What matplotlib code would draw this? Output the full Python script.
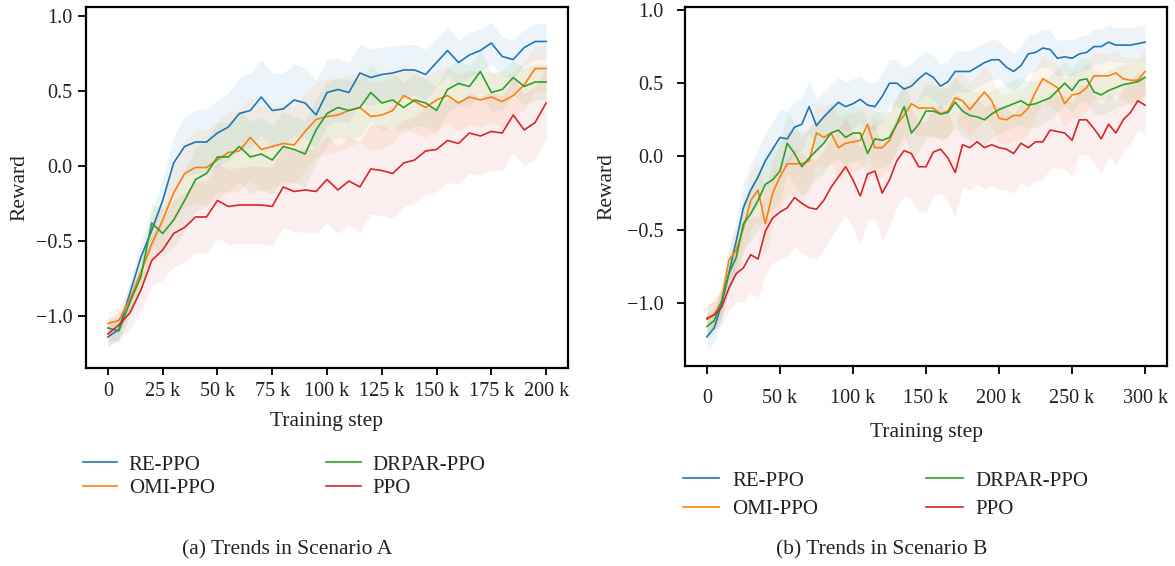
"""Reward trends of the four PPO variants in scenario A and scenario B."""

import numpy as np
import matplotlib
matplotlib.use('Agg')
from matplotlib import pyplot as plt
from matplotlib.ticker import FuncFormatter


# =============================================================================
# Data
# =============================================================================
labels = ['RE-PPO', 'OMI-PPO', 'DRPAR-PPO', 'PPO']
colors = ['#1f77b4', '#ff7f0e', '#2ca02c', '#d62728']

# Scenario A, training step in k
steps_a = np.arange(0, 201, 5)

re_a = [-1.14, -1.09, -0.85, -0.61, -0.43, -0.23, 0.02, 0.13, 0.16, 0.16,
        0.22, 0.26, 0.35, 0.37, 0.46, 0.37, 0.38, 0.44, 0.42, 0.34,
        0.49, 0.51, 0.49, 0.62, 0.59, 0.61, 0.62, 0.64, 0.64, 0.61,
        0.69, 0.77, 0.69, 0.74, 0.77, 0.82, 0.73, 0.71, 0.79, 0.83,
        0.83]
omi_a = [-1.05, -1.03, -0.89, -0.71, -0.52, -0.36, -0.18, -0.05, -0.01, -0.01,
         0.04, 0.09, 0.10, 0.19, 0.11, 0.13, 0.15, 0.14, 0.23, 0.31,
         0.33, 0.34, 0.37, 0.39, 0.33, 0.34, 0.37, 0.47, 0.43, 0.39,
         0.44, 0.47, 0.42, 0.46, 0.44, 0.46, 0.43, 0.47, 0.54, 0.65,
         0.65]
drpar_a = [-1.08, -1.10, -0.91, -0.74, -0.38, -0.45, -0.36, -0.23, -0.09, -0.05,
           0.06, 0.06, 0.13, 0.06, 0.08, 0.04, 0.13, 0.11, 0.08, 0.24,
           0.35, 0.39, 0.37, 0.39, 0.49, 0.42, 0.44, 0.39, 0.44, 0.42,
           0.37, 0.51, 0.55, 0.53, 0.63, 0.49, 0.51, 0.59, 0.53, 0.56,
           0.56]
ppo_a = [-1.12, -1.06, -0.98, -0.83, -0.63, -0.56, -0.45, -0.41, -0.34, -0.34,
         -0.23, -0.27, -0.26, -0.26, -0.26, -0.27, -0.14, -0.17, -0.16, -0.17,
         -0.09, -0.16, -0.10, -0.14, -0.02, -0.03, -0.05, 0.02, 0.04, 0.10,
         0.11, 0.17, 0.15, 0.22, 0.20, 0.23, 0.22, 0.34, 0.24, 0.29,
         0.42]

# Scenario A, spread of the runs around each curve
sd_re_a = [0.07, 0.07, 0.08, 0.10, 0.12, 0.15, 0.18, 0.20, 0.21, 0.22,
           0.22, 0.23, 0.24, 0.25, 0.25, 0.25, 0.24, 0.24, 0.23, 0.23,
           0.22, 0.21, 0.20, 0.19, 0.19, 0.18, 0.18, 0.17, 0.17, 0.17,
           0.16, 0.16, 0.15, 0.15, 0.14, 0.14, 0.13, 0.13, 0.12, 0.12,
           0.12]
sd_omi_a = [0.08, 0.08, 0.09, 0.11, 0.14, 0.17, 0.20, 0.22, 0.24, 0.25,
            0.26, 0.27, 0.27, 0.28, 0.28, 0.27, 0.27, 0.26, 0.26, 0.25,
            0.25, 0.24, 0.24, 0.23, 0.23, 0.22, 0.22, 0.21, 0.21, 0.20,
            0.20, 0.19, 0.19, 0.18, 0.18, 0.17, 0.17, 0.16, 0.16, 0.15,
            0.15]
sd_drpar_a = [0.07, 0.08, 0.09, 0.10, 0.13, 0.16, 0.18, 0.20, 0.21, 0.22,
              0.23, 0.23, 0.24, 0.24, 0.24, 0.23, 0.23, 0.22, 0.22, 0.21,
              0.21, 0.20, 0.20, 0.19, 0.19, 0.18, 0.18, 0.17, 0.17, 0.16,
              0.16, 0.15, 0.15, 0.14, 0.14, 0.13, 0.13, 0.12, 0.12, 0.12,
              0.12]
sd_ppo_a = [0.08, 0.09, 0.11, 0.14, 0.17, 0.20, 0.22, 0.23, 0.24, 0.24,
            0.25, 0.25, 0.25, 0.26, 0.26, 0.26, 0.27, 0.27, 0.28, 0.28,
            0.29, 0.29, 0.29, 0.30, 0.30, 0.30, 0.30, 0.29, 0.29, 0.29,
            0.28, 0.28, 0.27, 0.27, 0.26, 0.26, 0.25, 0.25, 0.24, 0.24,
            0.24]

# Scenario B, training step in k
steps_b = np.arange(0, 301, 5)

re_b = [-1.23, -1.17, -1.01, -0.80, -0.58, -0.35, -0.23, -0.14, -0.03, 0.05,
        0.13, 0.12, 0.20, 0.22, 0.34, 0.21, 0.27, 0.32, 0.37, 0.34,
        0.36, 0.39, 0.35, 0.34, 0.41, 0.50, 0.50, 0.46, 0.48, 0.53,
        0.57, 0.54, 0.48, 0.51, 0.58, 0.58, 0.58, 0.61, 0.64, 0.66,
        0.66, 0.61, 0.58, 0.62, 0.70, 0.71, 0.74, 0.73, 0.67, 0.68,
        0.67, 0.70, 0.71, 0.75, 0.75, 0.78, 0.76, 0.76, 0.76, 0.77,
        0.78]
omi_b = [-1.10, -1.08, -0.99, -0.71, -0.64, -0.49, -0.30, -0.23, -0.46, -0.25,
         -0.14, -0.05, -0.05, -0.05, -0.03, 0.16, 0.13, 0.16, 0.06, 0.09,
         0.10, 0.11, 0.22, 0.06, 0.06, 0.11, 0.22, 0.28, 0.36, 0.33,
         0.33, 0.33, 0.29, 0.31, 0.40, 0.38, 0.32, 0.38, 0.44, 0.38,
         0.26, 0.25, 0.28, 0.28, 0.33, 0.44, 0.53, 0.50, 0.47, 0.36,
         0.42, 0.43, 0.47, 0.55, 0.55, 0.55, 0.57, 0.53, 0.52, 0.52,
         0.58]
drpar_b = [-1.16, -1.12, -0.99, -0.80, -0.69, -0.46, -0.39, -0.30, -0.19, -0.16,
           -0.10, 0.09, 0.02, -0.07, -0.01, 0.04, 0.09, 0.16, 0.18, 0.13,
           0.16, 0.16, 0.02, 0.12, 0.11, 0.13, 0.22, 0.34, 0.16, 0.22,
           0.31, 0.31, 0.29, 0.30, 0.37, 0.31, 0.28, 0.27, 0.25, 0.29,
           0.32, 0.34, 0.36, 0.38, 0.35, 0.36, 0.38, 0.40, 0.45, 0.50,
           0.45, 0.52, 0.53, 0.44, 0.42, 0.45, 0.47, 0.49, 0.50, 0.51,
           0.54]
ppo_b = [-1.11, -1.08, -1.03, -0.90, -0.80, -0.76, -0.67, -0.70, -0.51, -0.42,
         -0.38, -0.35, -0.28, -0.32, -0.35, -0.36, -0.30, -0.21, -0.14, -0.07,
         -0.16, -0.27, -0.12, -0.10, -0.25, -0.16, -0.03, 0.04, 0.02, -0.07,
         -0.07, 0.03, 0.05, -0.01, -0.11, 0.08, 0.06, 0.10, 0.06, 0.08,
         0.06, 0.05, 0.02, 0.09, 0.06, 0.10, 0.10, 0.18, 0.17, 0.16,
         0.11, 0.25, 0.25, 0.19, 0.12, 0.22, 0.16, 0.25, 0.30, 0.38,
         0.35]

# Scenario B, spread of the runs around each curve
sd_re_b = [0.10, 0.10, 0.11, 0.13, 0.15, 0.17, 0.18, 0.19, 0.19, 0.19,
           0.19, 0.19, 0.18, 0.18, 0.18, 0.18, 0.17, 0.17, 0.17, 0.17,
           0.17, 0.16, 0.16, 0.16, 0.16, 0.16, 0.16, 0.15, 0.15, 0.15,
           0.15, 0.15, 0.15, 0.14, 0.14, 0.14, 0.14, 0.14, 0.14, 0.14,
           0.13, 0.13, 0.13, 0.13, 0.13, 0.13, 0.13, 0.13, 0.12, 0.12,
           0.12, 0.12, 0.12, 0.12, 0.12, 0.12, 0.12, 0.12, 0.12, 0.12,
           0.12]
sd_omi_b = [0.09, 0.09, 0.10, 0.12, 0.15, 0.18, 0.20, 0.21, 0.22, 0.22,
            0.22, 0.22, 0.22, 0.22, 0.21, 0.21, 0.21, 0.21, 0.21, 0.20,
            0.20, 0.20, 0.20, 0.20, 0.20, 0.19, 0.19, 0.19, 0.19, 0.19,
            0.19, 0.19, 0.18, 0.18, 0.18, 0.18, 0.18, 0.18, 0.18, 0.17,
            0.17, 0.17, 0.17, 0.17, 0.17, 0.17, 0.16, 0.16, 0.16, 0.16,
            0.16, 0.16, 0.16, 0.16, 0.16, 0.15, 0.15, 0.15, 0.15, 0.15,
            0.15]
sd_drpar_b = [0.09, 0.09, 0.10, 0.12, 0.14, 0.17, 0.19, 0.20, 0.21, 0.21,
              0.21, 0.21, 0.21, 0.20, 0.20, 0.20, 0.20, 0.20, 0.20, 0.19,
              0.19, 0.19, 0.19, 0.19, 0.19, 0.18, 0.18, 0.18, 0.18, 0.18,
              0.18, 0.18, 0.17, 0.17, 0.17, 0.17, 0.17, 0.17, 0.17, 0.16,
              0.16, 0.16, 0.16, 0.16, 0.16, 0.16, 0.15, 0.15, 0.15, 0.15,
              0.15, 0.15, 0.15, 0.15, 0.14, 0.14, 0.14, 0.14, 0.14, 0.14,
              0.14]
sd_ppo_b = [0.09, 0.10, 0.12, 0.15, 0.19, 0.23, 0.26, 0.28, 0.30, 0.31,
            0.32, 0.33, 0.33, 0.34, 0.34, 0.34, 0.34, 0.34, 0.33, 0.33,
            0.33, 0.33, 0.32, 0.32, 0.32, 0.32, 0.31, 0.31, 0.31, 0.31,
            0.31, 0.30, 0.30, 0.30, 0.30, 0.29, 0.29, 0.29, 0.28, 0.28,
            0.28, 0.28, 0.27, 0.27, 0.27, 0.26, 0.26, 0.26, 0.25, 0.25,
            0.25, 0.24, 0.24, 0.23, 0.23, 0.22, 0.22, 0.21, 0.21, 0.20,
            0.20]


# =============================================================================
# Plot parameters
# =============================================================================
fontsize = 14.5
plt.rcParams['font.family'] = ['Liberation Serif', 'DejaVu Serif']
plt.rcParams['font.size'] = fontsize
plt.rcParams['axes.labelsize'] = 15.5
plt.rcParams['text.color'] = '#222222'
plt.rcParams['axes.labelcolor'] = '#222222'
plt.rcParams['xtick.color'] = '#111111'
plt.rcParams['ytick.color'] = '#111111'
plt.rcParams['xtick.labelcolor'] = '#222222'
plt.rcParams['ytick.labelcolor'] = '#222222'
plt.rcParams['axes.linewidth'] = 1.6
plt.rcParams['xtick.major.width'] = 1.4
plt.rcParams['ytick.major.width'] = 1.4
plt.rcParams['xtick.major.size'] = 5
plt.rcParams['ytick.major.size'] = 5.5


def k_format(v, pos):
    if abs(v) < 1e-9:
        return '0'
    return f'{int(round(v))} k'


def draw_panel(ax, steps, curves, spreads):
    for curve, spread, color in zip(curves, spreads, colors):
        curve = np.asarray(curve)
        spread = np.asarray(spread)
        ax.fill_between(steps, curve - spread, curve + spread, color=color,
            alpha=0.08, linewidth=0)
    for curve, color, label in zip(curves, colors, labels):
        ax.plot(steps, curve, color=color, linewidth=1.2, label=label)
    ax.set_yticks([-1.0, -0.5, 0.0, 0.5, 1.0])
    ax.yaxis.set_major_formatter(
        FuncFormatter(lambda v, p: f'{v:.1f}'.replace('-', '\u2212')))
    ax.xaxis.set_major_formatter(FuncFormatter(k_format))
    ax.set_ylabel('Reward')
    ax.set_xlabel('Training step')


fig = plt.figure(figsize=(11.75, 5.66), dpi=100)
W, H = 1175, 566

# =============================================================================
# Scenario A
# =============================================================================
ax_a = fig.add_axes([86 / W, 1 - 368 / H, 482 / W, 361 / H])
draw_panel(ax_a, steps_a, [re_a, omi_a, drpar_a, ppo_a],
    [sd_re_a, sd_omi_a, sd_drpar_a, sd_ppo_a])
ax_a.set_xticks(np.arange(0, 201, 25))
ax_a.set_xlim(-10, 210)
ax_a.set_ylim(-1.347, 1.06)
ax_a.tick_params(axis='x', pad=5)
ax_a.tick_params(axis='y', pad=4)
ax_a.yaxis.set_label_coords(-0.118, 0.5)
ax_a.xaxis.set_label_coords(0.5, -0.121)
ax_a.xaxis.label.set_va('top')
ax_a.legend(loc='upper left', bbox_to_anchor=(83 / W, 1 - 455 / H),
    bbox_transform=fig.transFigure, ncol=2, frameon=False, fontsize=15,
    handlelength=1.65, handletextpad=0.55, columnspacing=5.35,
    labelspacing=0.2, borderpad=0, borderaxespad=0)
fig.text(287 / W, 1 - 550 / H, '(a) Trends in Scenario A', ha='center',
    va='center', fontsize=15.5)

# =============================================================================
# Scenario B
# =============================================================================
ax_b = fig.add_axes([685 / W, 1 - 366 / H, 482 / W, 359 / H])
draw_panel(ax_b, steps_b, [re_b, omi_b, drpar_b, ppo_b],
    [sd_re_b, sd_omi_b, sd_drpar_b, sd_ppo_b])
ax_b.set_xticks(np.arange(0, 301, 50))
ax_b.set_xlim(-15, 315)
ax_b.set_ylim(-1.43, 1.02)
ax_b.tick_params(axis='x', pad=11, length=5.5)
ax_b.tick_params(axis='y', pad=10)
ax_b.yaxis.set_label_coords(-0.143, 0.5)
ax_b.xaxis.set_label_coords(0.5, -0.159)
ax_b.xaxis.label.set_va('top')
ax_b.legend(loc='upper left', bbox_to_anchor=(683 / W, 1 - 471 / H),
    bbox_transform=fig.transFigure, ncol=2, frameon=False, fontsize=15,
    handlelength=1.75, handletextpad=0.6, columnspacing=5.2,
    labelspacing=0.42, borderpad=0, borderaxespad=0)
fig.text(882 / W, 1 - 550 / H, '(b) Trends in Scenario B', ha='center',
    va='center', fontsize=15.5)

fig.savefig('out.png', dpi=100)
plt.close()
